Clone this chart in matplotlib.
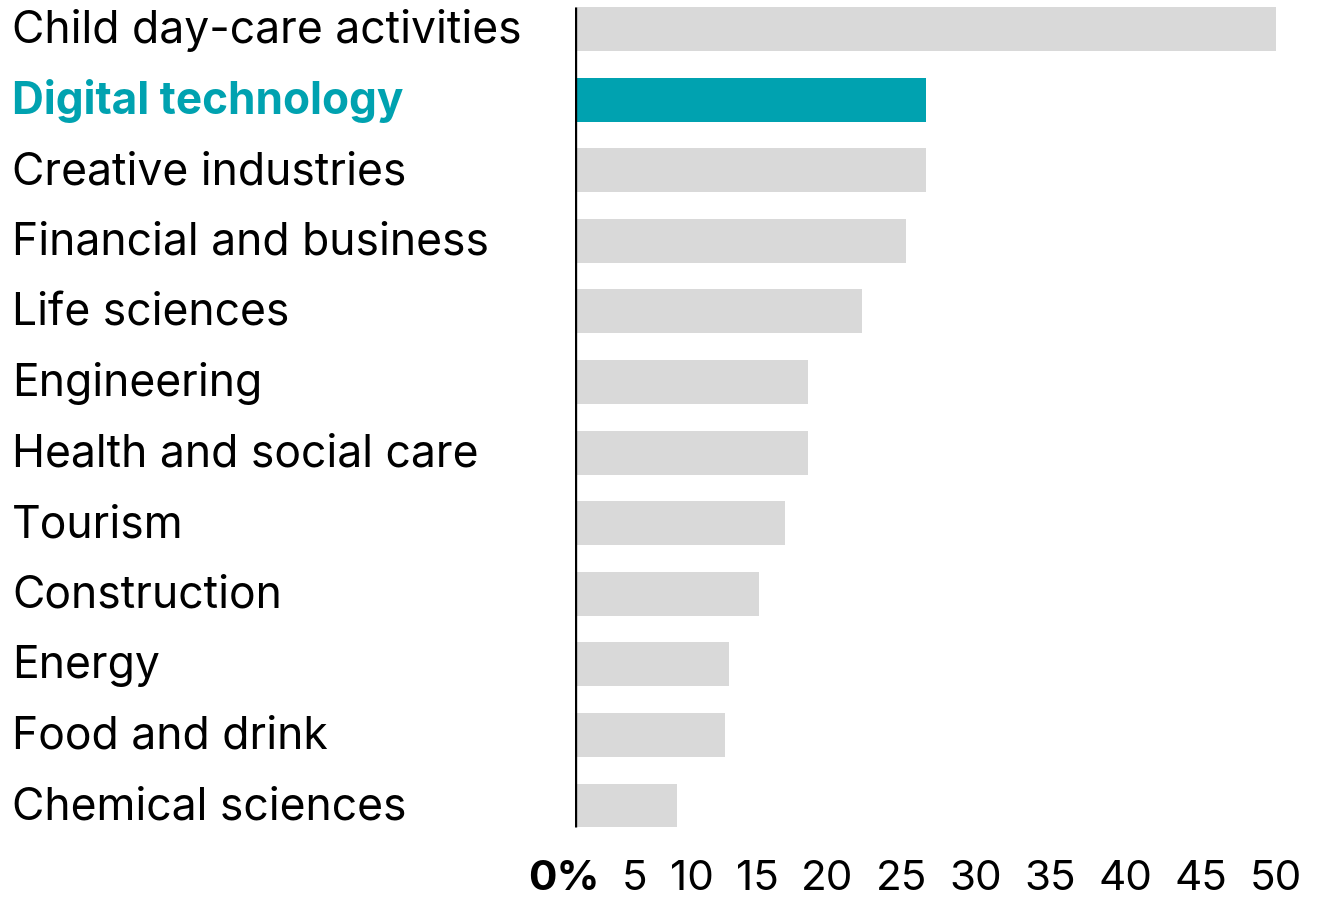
import matplotlib
matplotlib.use("Agg")
import matplotlib.pyplot as plt
from matplotlib.transforms import blended_transform_factory, offset_copy

# ---- data ----
categories = ["Child day-care activities", "Digital technology", "Creative industries",
              "Financial and business", "Life sciences", "Engineering",
              "Health and social care", "Tourism", "Construction", "Energy",
              "Food and drink", "Chemical sciences"]
values = [50.0, 25.0, 25.0, 23.6, 20.5, 16.6, 16.6, 15.0, 13.1, 11.0, 10.7, 7.3]
highlight = "Digital technology"
tick_values = [0, 5, 10, 15, 20, 25, 30, 35, 40, 45, 50]
tick_labels = ["0%", "5", "10", "15", "20", "25", "30", "35", "40", "45", "50"]

TEAL = "#00A2B0"
GREY = "#D9D9D9"
FONT = "Inter"

W, H = 1328, 899
fig = plt.figure(figsize=(W / 100, H / 100), dpi=100)
fig.patch.set_facecolor("white")

n = len(categories)
bar_h = 0.623
ax = fig.add_axes([575 / W, (H - 841) / H, 701 / W, 841 / H])
colors = [TEAL if c == highlight else GREY for c in categories]
ax.barh(range(n), values, height=bar_h, color=colors, zorder=1)
ax.vlines(0, -bar_h / 2, n - 1 + bar_h / 2, color="black", lw=2.4, zorder=3)
ax.set_xlim(0, max(tick_values))
ax.set_ylim(11.503, -0.411)
ax.axis("off")

renderer = fig.canvas.get_renderer()


def fit_size(text, target_px, weight="normal"):
    probe = fig.text(0, 0, text, fontsize=10, family=FONT, fontweight=weight)
    w10 = probe.get_window_extent(renderer).width
    probe.remove()
    return 10 * target_px / w10


fs = fit_size(categories[0], 525) * 0.975
fs_hl = fit_size(highlight, 391, "bold")

trans = offset_copy(blended_transform_factory(fig.transFigure, ax.transData),
                    fig=fig, x=0, y=-14, units="dots")
for i, c in enumerate(categories):
    hl = c == highlight
    fig.text(12 / W, i, c, transform=trans, fontsize=fs_hl if hl else fs, family=FONT,
             fontweight="bold" if hl else "normal",
             color=TEAL if hl else "black", ha="left", va="baseline")

# tick labels laid out with equal gaps between 528 px and 1302 px
tfs = fs * 0.95
texts = []
for lab in tick_labels:
    t = fig.text(0, 0, lab, fontsize=tfs, family=FONT,
                 fontweight="bold" if lab.endswith("%") else "normal",
                 color="black", ha="left", va="baseline")
    texts.append(t)
widths = [t.get_window_extent(renderer).width for t in texts]
left_px, right_px = 528, 1302
gap = (right_px - left_px - sum(widths)) / (len(texts) - 1)
x = left_px
for t, w in zip(texts, widths):
    t.set_position((x / W, 1 - 890 / H))
    x += w + gap

fig.savefig("out.png", dpi=100, facecolor="white")
